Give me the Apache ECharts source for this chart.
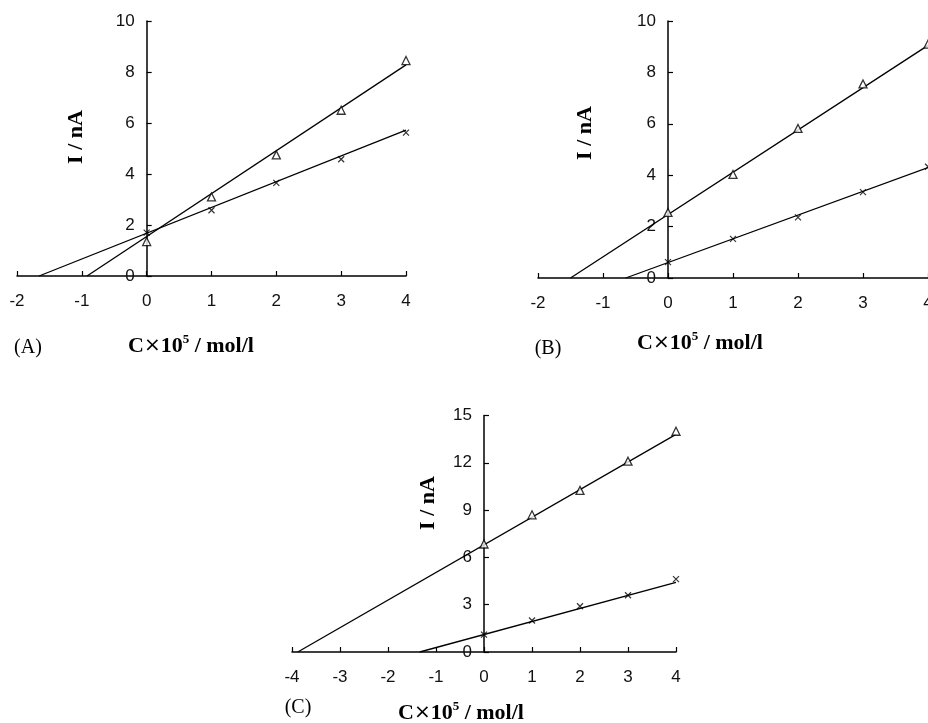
<!DOCTYPE html>
<html>
<head>
<meta charset="utf-8">
<script src="https://cdn.jsdelivr.net/npm/echarts@6/dist/echarts.min.js"></script>
<style>
  html, body { margin: 0; background: #fff; }
  #chart { width: 928px; height: 723px; }
</style>
</head>
<body>
<div id="chart"></div>
<script>
// concentration (C x 10^5 mol/l)
const conc = [0, 1, 2, 3, 4];

// panel A
const triA = [1.35, 3.1, 4.75, 6.5, 8.45];
const crossA = [1.7, 2.58, 3.65, 4.58, 5.62];
const triFitA = [[-0.92, 0], [4, 8.28]];
const crossFitA = [[-1.66, 0], [4, 5.72]];

// panel B
const triB = [2.55, 4.03, 5.82, 7.55, 9.1];
const crossB = [0.62, 1.52, 2.36, 3.34, 4.33];
const triFitB = [[-1.5, 0], [4, 9.05]];
const crossFitB = [[-0.65, 0], [4, 4.3]];

// panel C
const triC = [6.85, 8.7, 10.25, 12.1, 14.0];
const crossC = [1.1, 2.0, 2.9, 3.6, 4.62];
const triFitC = [[-3.88, 0], [4, 13.8]];
const crossFitC = [[-1.34, 0], [4, 4.42]];

// axis ranges [min, max, interval]
const xRangeAB = [-2, 4, 1];
const xRangeC = [-4, 4, 1];
const yRangeAB = [0, 10, 2];
const yRangeC = [0, 15, 3];

const grids = [
  { left: 17, top: 21, width: 389, height: 255 },
  { left: 538, top: 21, width: 390, height: 257 },
  { left: 292, top: 415.5, width: 384, height: 236.5 }
];

const labelFont = { fontFamily: '"Liberation Sans", Arial, sans-serif', fontSize: 17, color: '#111' };
const crossPath = 'path://M0,0L10,10M10,0L0,10';

function xAxis(idx, r) {
  return {
    type: 'value', gridIndex: idx, min: r[0], max: r[1], interval: r[2],
    axisLine: { onZero: false, lineStyle: { color: '#000', width: 1.5 } },
    axisTick: { inside: true, length: 5, lineStyle: { color: '#000', width: 1.2 } },
    axisLabel: { ...labelFont, margin: 17, showMinLabel: true, showMaxLabel: true },
    splitLine: { show: false }
  };
}

// y axis sits at x = 0, so shift it right from the grid's left edge
function yAxis(idx, r, xr) {
  const shift = grids[idx].width * (0 - xr[0]) / (xr[1] - xr[0]);
  return {
    type: 'value', gridIndex: idx, min: r[0], max: r[1], interval: r[2],
    offset: -shift,
    axisLine: { show: true, onZero: false, lineStyle: { color: '#000', width: 1.5 } },
    axisTick: { show: true, inside: true, length: 5, lineStyle: { color: '#000', width: 1.2 } },
    axisLabel: { ...labelFont, margin: 12, showMinLabel: true, showMaxLabel: true },
    splitLine: { show: false }
  };
}

function panelSeries(idx, tri, cross, triFit, crossFit) {
  const line = (d) => ({
    type: 'line', xAxisIndex: idx, yAxisIndex: idx, data: d,
    showSymbol: false, silent: true, z: 2,
    lineStyle: { color: '#000', width: 1.3 }
  });
  return [
    line(triFit),
    line(crossFit),
    {
      type: 'scatter', xAxisIndex: idx, yAxisIndex: idx, z: 3,
      data: conc.map((c, i) => [c, tri[i]]),
      symbol: 'triangle', symbolSize: [8, 8],
      itemStyle: { color: '#fff', borderColor: '#000', borderWidth: 1.3 }
    },
    {
      type: 'scatter', xAxisIndex: idx, yAxisIndex: idx, z: 3,
      data: conc.map((c, i) => [c, cross[i]]),
      symbol: crossPath, symbolSize: 6,
      itemStyle: { color: 'transparent', borderColor: '#000', borderWidth: 1.2 }
    }
  ];
}

function yName(x, y) {
  return {
    type: 'text', x: x, y: y, rotation: Math.PI / 2,
    style: {
      text: 'I / nA', fill: '#000',
      font: 'bold 22px "Liberation Serif", "Times New Roman", serif',
      align: 'center', verticalAlign: 'middle'
    }
  };
}

function xName(x, y) {
  return {
    type: 'text', x: x, y: y,
    style: {
      text: '{a|C}{m|×}{a|10}{s|5}{a| / mol/l}',
      align: 'center', verticalAlign: 'middle',
      rich: {
        a: { fontFamily: '"Liberation Serif", serif', fontWeight: 'bold', fontSize: 22, lineHeight: 26, fill: '#000' },
        m: { fontFamily: '"DejaVu Sans", sans-serif', fontSize: 20, lineHeight: 26, fill: '#000' },
        s: { fontFamily: '"Liberation Serif", serif', fontWeight: 'bold', fontSize: 13, lineHeight: 26, verticalAlign: 'top', fill: '#000' }
      }
    }
  };
}

function tag(text, x, y) {
  return {
    type: 'text', x: x, y: y,
    style: {
      text: text, fill: '#000',
      font: '20px "Liberation Serif", "Times New Roman", serif',
      align: 'center', verticalAlign: 'middle'
    }
  };
}

const chart = echarts.init(document.getElementById('chart'));
chart.setOption({
  backgroundColor: '#fff',
  animation: false,
  grid: grids.map((g) => ({ ...g, outerBoundsMode: 'none', containLabel: false })),
  xAxis: [xAxis(0, xRangeAB), xAxis(1, xRangeAB), xAxis(2, xRangeC)],
  yAxis: [yAxis(0, yRangeAB, xRangeAB), yAxis(1, yRangeAB, xRangeAB), yAxis(2, yRangeC, xRangeC)],
  series: [
    ...panelSeries(0, triA, crossA, triFitA, crossFitA),
    ...panelSeries(1, triB, crossB, triFitB, crossFitB),
    ...panelSeries(2, triC, crossC, triFitC, crossFitC)
  ],
  graphic: [
    yName(76, 137), xName(191, 346), tag('(A)', 28, 348),
    yName(585, 133), xName(700, 343), tag('(B)', 548, 349),
    yName(428, 503), xName(461, 713), tag('(C)', 298, 708)
  ]
});
</script>
</body>
</html>
